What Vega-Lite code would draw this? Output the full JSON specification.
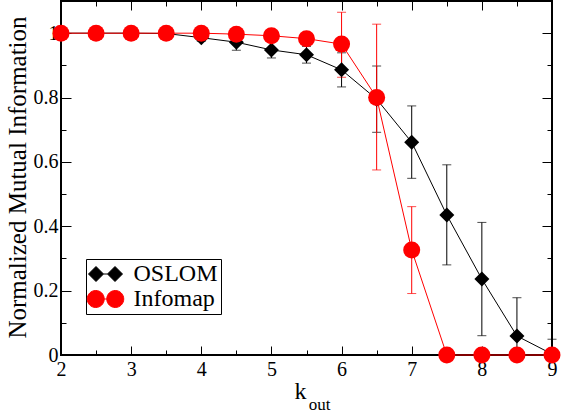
{
  "$schema": "https://vega.github.io/schema/vega-lite/v6.json",
  "width": 491,
  "height": 354,
  "autosize": {"type": "none"},
  "padding": {"left": 61, "top": 1, "right": 10, "bottom": 57},
  "background": "white",
  "config": {
    "view": {"stroke": "black", "strokeWidth": 2},
    "font": "Liberation Serif",
    "axis": {
      "labelFont": "Liberation Serif",
      "titleFont": "Liberation Serif",
      "labelColor": "black",
      "titleColor": "black",
      "labelFontSize": 20,
      "titleFontSize": 24,
      "titleFontWeight": "normal",
      "domain": false,
      "grid": false,
      "tickColor": "black",
      "tickWidth": 1,
      "labelFlush": false,
      "labelOverlap": false
    },
    "legend": {
      "orient": "none",
      "legendX": 25,
      "legendY": 258,
      "strokeColor": "black",
      "fillColor": "white",
      "padding": 3,
      "labelFont": "Liberation Serif",
      "labelFontSize": 24,
      "labelColor": "black",
      "symbolSize": 256,
      "symbolOpacity": 1,
      "symbolOffset": 4.5,
      "labelOffset": 16,
      "rowPadding": 1
    }
  },
  "data": {
    "values": [
      {"series": "OSLOM", "k": 2.0, "nmi": 1.000, "lo": 1.000, "hi": 1.000},
      {"series": "OSLOM", "k": 2.5, "nmi": 1.000, "lo": 1.000, "hi": 1.000},
      {"series": "OSLOM", "k": 3.0, "nmi": 1.000, "lo": 1.000, "hi": 1.000},
      {"series": "OSLOM", "k": 3.5, "nmi": 0.999, "lo": 0.999, "hi": 0.999},
      {"series": "OSLOM", "k": 4.0, "nmi": 0.986, "lo": 0.975, "hi": 0.997},
      {"series": "OSLOM", "k": 4.5, "nmi": 0.972, "lo": 0.947, "hi": 0.997},
      {"series": "OSLOM", "k": 5.0, "nmi": 0.948, "lo": 0.923, "hi": 0.973},
      {"series": "OSLOM", "k": 5.5, "nmi": 0.933, "lo": 0.907, "hi": 0.959},
      {"series": "OSLOM", "k": 6.0, "nmi": 0.886, "lo": 0.833, "hi": 0.939},
      {"series": "OSLOM", "k": 6.5, "nmi": 0.795, "lo": 0.692, "hi": 0.898},
      {"series": "OSLOM", "k": 7.0, "nmi": 0.661, "lo": 0.549, "hi": 0.774},
      {"series": "OSLOM", "k": 7.5, "nmi": 0.435, "lo": 0.280, "hi": 0.591},
      {"series": "OSLOM", "k": 8.0, "nmi": 0.236, "lo": 0.060, "hi": 0.412},
      {"series": "OSLOM", "k": 8.5, "nmi": 0.059, "lo": 0.000, "hi": 0.178},
      {"series": "OSLOM", "k": 9.0, "nmi": 0.003, "lo": 0.000, "hi": 0.049},
      {"series": "Infomap", "k": 2.0, "nmi": 1.000, "lo": 1.000, "hi": 1.000},
      {"series": "Infomap", "k": 2.5, "nmi": 1.000, "lo": 1.000, "hi": 1.000},
      {"series": "Infomap", "k": 3.0, "nmi": 1.000, "lo": 1.000, "hi": 1.000},
      {"series": "Infomap", "k": 3.5, "nmi": 1.000, "lo": 1.000, "hi": 1.000},
      {"series": "Infomap", "k": 4.0, "nmi": 1.000, "lo": 1.000, "hi": 1.000},
      {"series": "Infomap", "k": 4.5, "nmi": 0.997, "lo": 0.997, "hi": 0.997},
      {"series": "Infomap", "k": 5.0, "nmi": 0.992, "lo": 0.992, "hi": 0.992},
      {"series": "Infomap", "k": 5.5, "nmi": 0.983, "lo": 0.983, "hi": 0.983},
      {"series": "Infomap", "k": 6.0, "nmi": 0.966, "lo": 0.863, "hi": 1.065},
      {"series": "Infomap", "k": 6.5, "nmi": 0.800, "lo": 0.575, "hi": 1.028},
      {"series": "Infomap", "k": 7.0, "nmi": 0.326, "lo": 0.191, "hi": 0.461},
      {"series": "Infomap", "k": 7.5, "nmi": 0.000, "lo": 0.000, "hi": 0.000},
      {"series": "Infomap", "k": 8.0, "nmi": 0.000, "lo": 0.000, "hi": 0.000},
      {"series": "Infomap", "k": 8.5, "nmi": 0.000, "lo": 0.000, "hi": 0.000},
      {"series": "Infomap", "k": 9.0, "nmi": 0.000, "lo": 0.000, "hi": 0.000}
    ]
  },
  "resolve": {"axis": {"x": "independent", "y": "independent"}},
  "layer": [
    {
      "transform": [{"filter": "datum.hi > datum.lo"}],
      "mark": {"type": "errorbar", "thickness": 1, "ticks": {"size": 9, "thickness": 1}},
      "encoding": {
        "x": {
          "field": "k", "type": "quantitative",
          "scale": {"domain": [2, 9], "nice": false, "zero": false},
          "axis": {
            "orient": "bottom",
            "values": [2, 2.5, 3, 3.5, 4, 4.5, 5, 5.5, 6, 6.5, 7, 7.5, 8, 8.5, 9],
            "tickSize": {"condition": {"test": "datum.value % 1 === 0", "value": -9}, "value": -5},
            "labelExpr": "datum.value % 1 === 0 ? format(datum.value, 'd') : ''",
            "labelPadding": 13,
            "title": "k",
            "titleX": 239,
            "titleY": 43,
            "titleAlign": "center",
            "titleBaseline": "alphabetic"
          }
        },
        "y": {
          "field": "lo", "type": "quantitative",
          "scale": {"domain": [0, 1.1], "nice": false, "zero": false},
          "axis": {
            "orient": "left",
            "values": [0, 0.1, 0.2, 0.3, 0.4, 0.5, 0.6, 0.7, 0.8, 0.9, 1.0],
            "tickSize": {"condition": {"test": "round(datum.value * 10) % 2 === 0", "value": -10}, "value": -5},
            "labelExpr": "round(datum.value * 10) % 2 === 0 ? format(datum.value, '.1~f') : ''",
            "labelPadding": 13,
            "title": "Normalized Mutual Information",
            "titleFontSize": 25,
            "titleX": -36,
            "titleY": 176,
            "titleAngle": 270,
            "titleAlign": "center",
            "titleBaseline": "alphabetic"
          }
        },
        "y2": {"field": "hi"},
        "color": {
          "field": "series", "type": "nominal",
          "scale": {"domain": ["OSLOM", "Infomap"], "range": ["black", "#ff0000"]},
          "legend": {
            "title": null,
            "orient": "none",
            "legendX": 25,
            "legendY": 258,
            "symbolOpacity": 1,
            "encode": {
              "symbols": {
                "update": {
                  "shape": {"signal": "datum.value === 'OSLOM' ? 'M-2.125,0L-1.1875,-0.9375L-0.25,0L-1.1875,0.9375ZM0.25,0L1.1875,-0.9375L2.125,0L1.1875,0.9375ZM-0.25,0L0.25,0' : 'M-2.28125,0A1.0625,1.0625,0,1,0,-0.15625,0A1.0625,1.0625,0,1,0,-2.28125,0ZM0.15625,0A1.0625,1.0625,0,1,0,2.28125,0A1.0625,1.0625,0,1,0,0.15625,0ZM-0.15625,0L0.15625,0'"},
                  "stroke": {"signal": "datum.value === 'OSLOM' ? 'black' : '#ff0000'"},
                  "strokeWidth": {"value": 1}
                }
              }
            }
          }
        }
      }
    },
    {
      "mark": {"type": "line", "strokeWidth": 1},
      "encoding": {
        "x": {
          "field": "k", "type": "quantitative",
          "axis": {
            "orient": "top",
            "values": [2, 2.5, 3, 3.5, 4, 4.5, 5, 5.5, 6, 6.5, 7, 7.5, 8, 8.5, 9],
            "tickSize": {"condition": {"test": "datum.value % 1 === 0", "value": -9}, "value": -5},
            "labels": false,
            "title": null
          }
        },
        "y": {
          "field": "nmi", "type": "quantitative",
          "axis": {
            "orient": "right",
            "values": [0, 0.1, 0.2, 0.3, 0.4, 0.5, 0.6, 0.7, 0.8, 0.9, 1.0],
            "tickSize": {"condition": {"test": "round(datum.value * 10) % 2 === 0", "value": -10}, "value": -5},
            "labels": false,
            "title": null
          }
        },
        "color": {"field": "series", "type": "nominal", "legend": {
            "title": null,
            "orient": "none",
            "legendX": 25,
            "legendY": 258,
            "symbolOpacity": 1,
            "encode": {
              "symbols": {
                "update": {
                  "shape": {"signal": "datum.value === 'OSLOM' ? 'M-2.125,0L-1.1875,-0.9375L-0.25,0L-1.1875,0.9375ZM0.25,0L1.1875,-0.9375L2.125,0L1.1875,0.9375ZM-0.25,0L0.25,0' : 'M-2.28125,0A1.0625,1.0625,0,1,0,-0.15625,0A1.0625,1.0625,0,1,0,-2.28125,0ZM0.15625,0A1.0625,1.0625,0,1,0,2.28125,0A1.0625,1.0625,0,1,0,0.15625,0ZM-0.15625,0L0.15625,0'"},
                  "stroke": {"signal": "datum.value === 'OSLOM' ? 'black' : '#ff0000'"},
                  "strokeWidth": {"value": 1}
                }
              }
            }
          }}
      }
    },
    {
      "mark": {"type": "point", "filled": true, "opacity": 1},
      "encoding": {
        "x": {
          "field": "k", "type": "quantitative",
          "axis": {
            "orient": "bottom",
            "domain": false,
            "ticks": false,
            "labels": false,
            "title": "out",
            "titleFontSize": 17,
            "titleX": 258,
            "titleY": 54,
            "titleAlign": "center",
            "titleBaseline": "alphabetic"
          }
        },
        "y": {"field": "nmi", "type": "quantitative", "axis": null},
        "color": {
          "field": "series", "type": "nominal",
          "legend": {
            "title": null,
            "orient": "none",
            "legendX": 25,
            "legendY": 258,
            "symbolOpacity": 1,
            "encode": {
              "symbols": {
                "update": {
                  "shape": {"signal": "datum.value === 'OSLOM' ? 'M-2.125,0L-1.1875,-0.9375L-0.25,0L-1.1875,0.9375ZM0.25,0L1.1875,-0.9375L2.125,0L1.1875,0.9375ZM-0.25,0L0.25,0' : 'M-2.28125,0A1.0625,1.0625,0,1,0,-0.15625,0A1.0625,1.0625,0,1,0,-2.28125,0ZM0.15625,0A1.0625,1.0625,0,1,0,2.28125,0A1.0625,1.0625,0,1,0,0.15625,0ZM-0.15625,0L0.15625,0'"},
                  "stroke": {"signal": "datum.value === 'OSLOM' ? 'black' : '#ff0000'"},
                  "strokeWidth": {"value": 1}
                }
              }
            }
          }
        },
        "shape": {"condition": {"test": "datum.series === 'OSLOM'", "value": "diamond"}, "value": "circle"},
        "size": {"condition": {"test": "datum.series === 'OSLOM'", "value": 225}, "value": 289}
      }
    }
  ]
}
